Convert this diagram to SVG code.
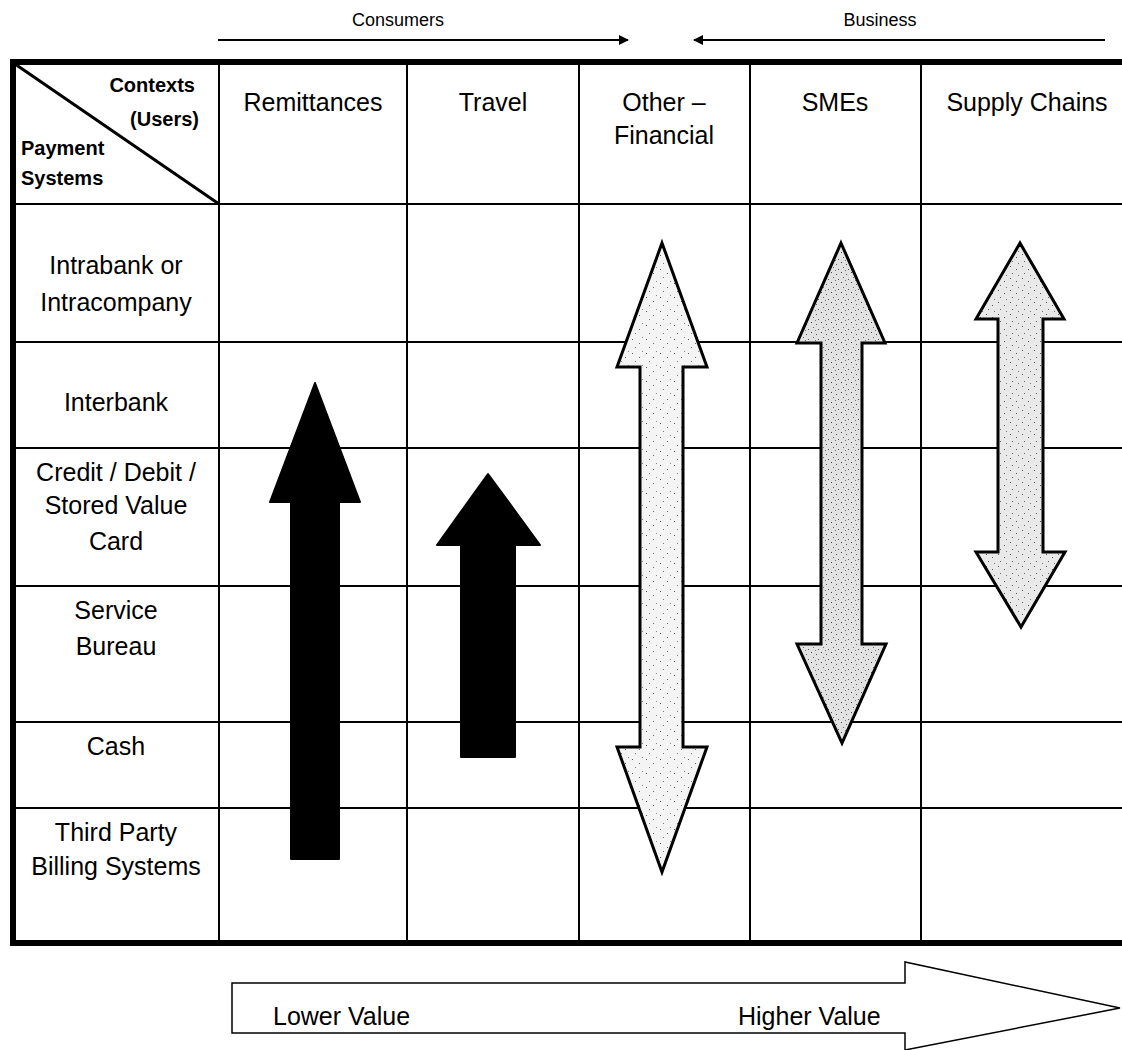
<svg xmlns="http://www.w3.org/2000/svg" width="1122" height="1050" viewBox="0 0 1122 1050">
<defs>
<style>
.t{font-family:"Liberation Sans",Arial,sans-serif;font-size:25px;fill:#000;text-anchor:middle}
.l{font-family:"Liberation Sans",Arial,sans-serif;font-size:25px;fill:#000;text-anchor:start}
.h{font-family:"Liberation Sans",Arial,sans-serif;font-size:20px;font-weight:bold;fill:#000}
.he{text-anchor:end}
.s{font-family:"Liberation Sans",Arial,sans-serif;font-size:18px;fill:#000;text-anchor:middle}
.g{stroke:#000;stroke-width:2;fill:none}
.b{stroke:#000;stroke-width:6;fill:none}
.dbl{stroke:#000;stroke-width:3;stroke-linejoin:miter}
.blk{fill:#000;stroke:#000;stroke-width:2;stroke-linejoin:round}
</style>
<pattern id="dotsL" width="14" height="14" patternUnits="userSpaceOnUse">
<rect width="14" height="14" fill="#f4f4f4"/>
<rect x="2" y="3" width="1" height="1" fill="#555"/>
<rect x="9" y="7" width="1" height="1" fill="#666"/>
<rect x="5" y="11" width="1" height="1" fill="#777"/>
<rect x="12" y="1" width="1" height="1" fill="#888"/>
</pattern>
<pattern id="dotsD" width="10" height="10" patternUnits="userSpaceOnUse">
<rect width="10" height="10" fill="#e2e2e2"/>
<rect x="1" y="2" width="1" height="1" fill="#444"/>
<rect x="6" y="4" width="1" height="1" fill="#555"/>
<rect x="3" y="7" width="1" height="1" fill="#666"/>
<rect x="8" y="9" width="1" height="1" fill="#555"/>
<rect x="5" y="0" width="1" height="1" fill="#777"/>
</pattern>
<pattern id="dotsM" width="12" height="12" patternUnits="userSpaceOnUse">
<rect width="12" height="12" fill="#e9e9e9"/>
<rect x="2" y="2" width="1" height="1" fill="#555"/>
<rect x="8" y="5" width="1" height="1" fill="#555"/>
<rect x="4" y="9" width="1" height="1" fill="#666"/>
<rect x="10" y="11" width="1" height="1" fill="#777"/>
</pattern>
<marker id="ah" viewBox="0 0 10 10" refX="9" refY="5" markerWidth="5" markerHeight="5" orient="auto-start-reverse">
<path d="M0,0 L10,5 L0,10 z" fill="#000"/>
</marker>
</defs>
<rect width="1122" height="1050" fill="#fff"/>

<g id="top-labels">
<text class="s" x="398" y="26">Consumers</text>
<line x1="218" y1="40" x2="628" y2="40" stroke="#000" stroke-width="2" marker-end="url(#ah)"/>
<text class="s" x="880" y="26">Business</text>
<line x1="1105" y1="40" x2="694" y2="40" stroke="#000" stroke-width="2" marker-end="url(#ah)"/>
</g>

<g id="grid">
<line class="g" x1="219" y1="62" x2="219" y2="943"/>
<line class="g" x1="407" y1="62" x2="407" y2="943"/>
<line class="g" x1="579" y1="62" x2="579" y2="943"/>
<line class="g" x1="750" y1="62" x2="750" y2="943"/>
<line class="g" x1="921" y1="62" x2="921" y2="943"/>
<line class="g" x1="13" y1="204" x2="1122" y2="204"/>
<line class="g" x1="13" y1="342" x2="1122" y2="342"/>
<line class="g" x1="13" y1="448" x2="1122" y2="448"/>
<line class="g" x1="13" y1="586" x2="1122" y2="586"/>
<line class="g" x1="13" y1="722" x2="1122" y2="722"/>
<line class="g" x1="13" y1="808" x2="1122" y2="808"/>
<line class="b" x1="13" y1="62" x2="1122" y2="62"/>
<line class="b" x1="13" y1="943" x2="1122" y2="943"/>
<line class="b" x1="13" y1="59" x2="13" y2="946"/>
<line x1="15" y1="64" x2="219" y2="204" stroke="#000" stroke-width="3"/>
</g>

<g id="corner-header">
<text class="h he" x="195" y="92">Contexts</text>
<text class="h he" x="199" y="126">(Users)</text>
<text class="h" x="21" y="155">Payment</text>
<text class="h" x="21" y="185">Systems</text>
</g>

<g id="col-headers">
<text class="t" x="313" y="111">Remittances</text>
<text class="t" x="493" y="111">Travel</text>
<text class="t" x="664" y="111">Other –</text>
<text class="t" x="664" y="144">Financial</text>
<text class="t" x="835" y="111">SMEs</text>
<text class="t" x="1027" y="111">Supply Chains</text>
</g>

<g id="row-headers">
<text class="t" x="116" y="274">Intrabank or</text>
<text class="t" x="116" y="311">Intracompany</text>
<text class="t" x="116" y="411">Interbank</text>
<text class="t" x="116" y="481">Credit / Debit /</text>
<text class="t" x="116" y="514">Stored Value</text>
<text class="t" x="116" y="550">Card</text>
<text class="t" x="116" y="619">Service</text>
<text class="t" x="116" y="655">Bureau</text>
<text class="t" x="116" y="755">Cash</text>
<text class="t" x="116" y="841">Third Party</text>
<text class="t" x="116" y="875">Billing Systems</text>
</g>

<g id="connectors">
<path id="arrow-remittances" class="blk" d="M315,383 L360,502 L339,502 L339,859 L291,859 L291,502 L270,502 Z"/>
<path id="arrow-travel" class="blk" d="M488,474 L540,545 L515,545 L515,757 L461,757 L461,545 L437,545 Z"/>
<path id="arrow-other" class="dbl" fill="url(#dotsL)" d="M662,243 L707,367 L683,367 L683,747 L707,747 L662,872 L617,747 L640,747 L640,367 L617,367 Z"/>
<path id="arrow-smes" class="dbl" fill="url(#dotsD)" d="M841,243 L885,343 L862,343 L862,644 L886,644 L842,743 L797,644 L821,644 L821,343 L797,343 Z"/>
<path id="arrow-supply" class="dbl" fill="url(#dotsM)" d="M1020,243 L1064,319 L1043,319 L1043,552 L1065,552 L1021,627 L976,552 L998,552 L998,319 L976,319 Z"/>
</g>

<g id="value-arrow">
<path d="M232,983 L905,983 L905,962 L1120,1008 L905,1050 L905,1033 L232,1033 Z" fill="#fff" stroke="#000" stroke-width="1.5"/>
<text class="l" x="273" y="1025">Lower Value</text>
<text class="l" x="738" y="1025">Higher Value</text>
</g>
</svg>
